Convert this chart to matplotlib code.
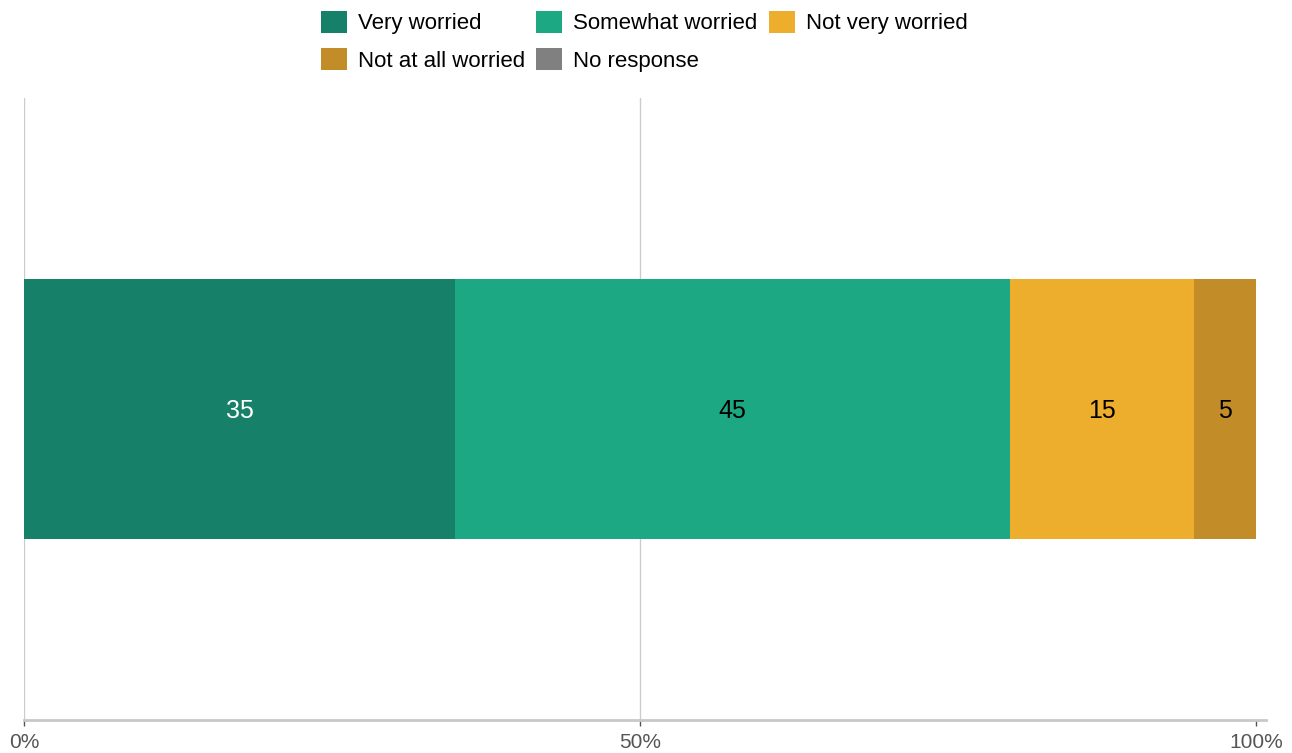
import matplotlib
matplotlib.use("Agg")
import matplotlib.pyplot as plt
from matplotlib.patches import Patch

plt.rcParams['font.family'] = ['Liberation Sans', 'DejaVu Sans']

# Survey responses (percent)
categories = ["Very worried", "Somewhat worried", "Not very worried",
              "Not at all worried", "No response"]
values = [35, 45, 15, 5, 0]
colors = ["#168069", "#1ca883", "#edad2d", "#c28d28", "#808080"]
label_colors = ["white", "black", "black", "black", "black"]
xticks = [0, 50, 100]
xticklabels = ["0%", "50%", "100%"]

fig = plt.figure(figsize=(12.92, 7.53), dpi=100)
W, H = 1292, 753
ax = fig.add_axes([24 / W, 1 - 720 / H, (1266 - 24) / W, (720 - 98) / H])

left = 0
for val, col, lc in zip(values, colors, label_colors):
    if val > 0:
        ax.barh(0, val, left=left, height=0.833, color=col, linewidth=0, zorder=3)
        ax.text(left + val / 2, -0.005, f"{val}", ha="center", va="center",
                fontsize=18, color=lc, zorder=4)
    left += val

ax.set_xlim(0, 100 * 1242 / 1232)
ax.set_ylim(-1, 1)
ax.set_yticks([])
ax.set_xticks(xticks)
ax.set_xticklabels(xticklabels)
ax.tick_params(axis="x", length=4, width=1, color="#555555", pad=5,
               labelsize=15, labelcolor="#555555")
for s in ["top", "right", "left"]:
    ax.spines[s].set_visible(False)
ax.spines["bottom"].set_color("#c8c8c8")
ax.spines["bottom"].set_linewidth(2)
for xv in [0, 50]:
    ax.axvline(xv, color="#cccccc", linewidth=1, zorder=1)

# legend ordered so that rows read left to right
handles = [Patch(facecolor=c, edgecolor="none") for c in colors]
order = [0, 3, 1, 4, 2]
fig.legend([handles[i] for i in order], [categories[i] for i in order],
           ncol=3, loc="upper center", bbox_to_anchor=(0.4985, 0.989),
           frameon=False, fontsize=16, handlelength=1.17, handleheight=1.17,
           handletextpad=0.5, columnspacing=0.5, labelspacing=0.62,
           borderpad=0.1, borderaxespad=0.0)

fig.savefig("out.png", dpi=100)
